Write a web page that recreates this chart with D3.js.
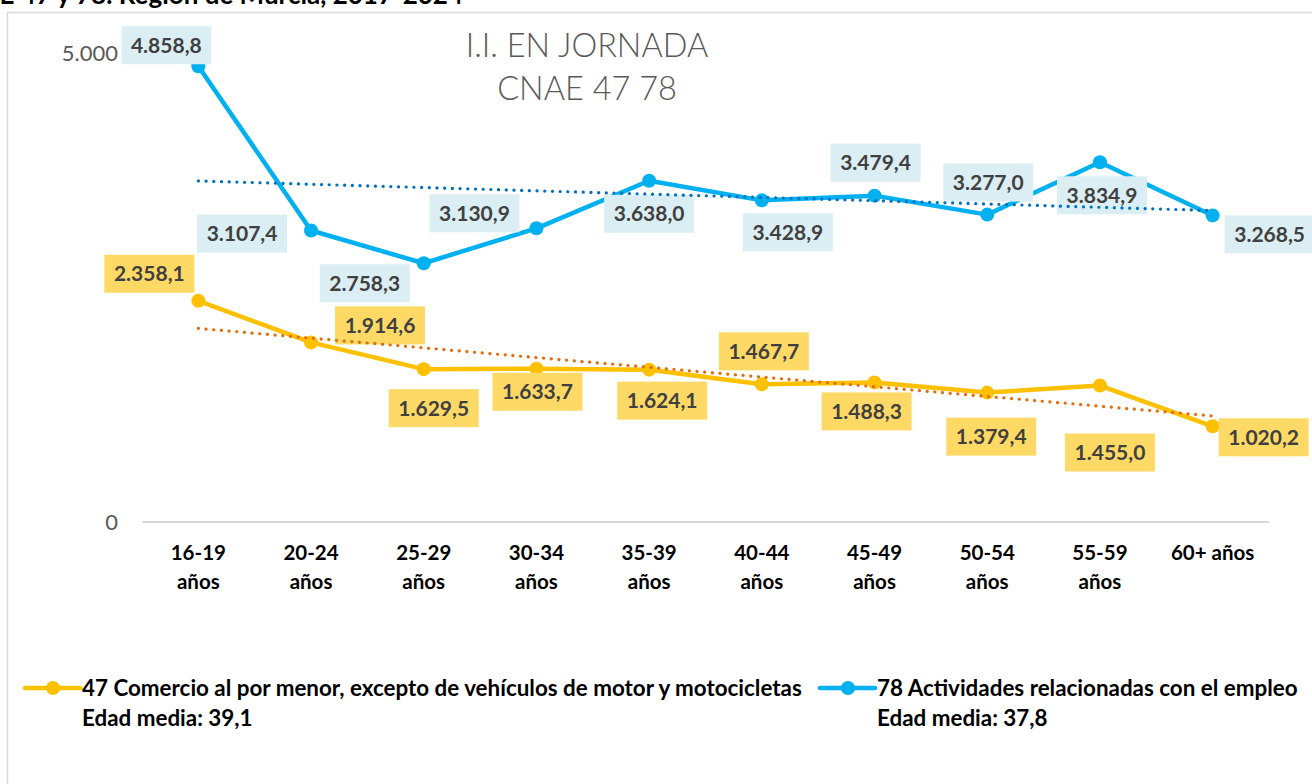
<!DOCTYPE html>
<html>
<head>
<meta charset="utf-8">
<script src="https://cdn.jsdelivr.net/npm/d3@7"></script>
<style>
  html, body { margin: 0; padding: 0; background: #fff; }
  svg { display: block; }
</style>
</head>
<body>
<svg id="chart" width="1312" height="784"></svg>
<script>
// ---------- data ----------
const categories = ["16-19 años", "20-24 años", "25-29 años", "30-34 años", "35-39 años",
                    "40-44 años", "45-49 años", "50-54 años", "55-59 años", "60+ años"];
const categoryLines = [["16-19", "años"], ["20-24", "años"], ["25-29", "años"], ["30-34", "años"],
                       ["35-39", "años"], ["40-44", "años"], ["45-49", "años"], ["50-54", "años"],
                       ["55-59", "años"], ["60+ años"]];
const comercio47 = [2358.1, 1914.6, 1629.5, 1633.7, 1624.1, 1467.7, 1488.3, 1379.4, 1455.0, 1020.2];
const empleo78   = [4858.8, 3107.4, 2758.3, 3130.9, 3638.0, 3428.9, 3479.4, 3277.0, 3834.9, 3268.5];
const yTicks = [0, 5000];
const seriesNames = ["47 Comercio al por menor, excepto de vehículos de motor y motocicletas",
                     "78 Actividades relacionadas con el empleo"];
const seriesMeanAge = ["Edad media: 39,1", "Edad media: 37,8"];
const titleLines = ["I.I. EN JORNADA", "CNAE 47 78"];
const topText = "CNAE 47 y 78. Región de Murcia, 2017-2024";

// ---------- layout (label offsets from points, px) ----------
const offs47 = [[-49, -27], [69, -17], [10, 39], [1, 23], [13, 31], [2, -33], [-8, 29], [4, 44], [10, 67], [51, 11]];
const offs78 = [[-32, -21], [-69, 3], [-59, 20], [-62, -15], [0, 33], [26, 32], [1, -33], [1, -32], [2, 33], [57, 19]];

const svg = d3.select("#chart");
const W = 1312, H = 784;
const FONT = "Lato, 'Open Sans', 'DejaVu Sans', sans-serif";

const esLocale = d3.formatLocale({decimal: ",", thousands: ".", grouping: [3], currency: ["", " €"]});
const fmt1 = esLocale.format(",.1f");
const fmt0 = esLocale.format(",.0f");

const x = d3.scaleBand().domain(categories).range([142, 1269]).paddingInner(0).paddingOuter(0);
const cx = c => x(c) + x.bandwidth() / 2;
const y = d3.scaleLinear().domain([0, 5000]).range([522, 53]);

// top caption (partly outside the window, as in the source image)
svg.append("text").attr("x", 463).attr("y", 4).attr("text-anchor", "end")
  .attr("font-family", FONT).attr("font-weight", "bold").attr("font-size", 26).attr("fill", "#000")
  .text(topText);

// chart frame
svg.append("rect").attr("x", 7.5).attr("y", 12.5).attr("width", W + 20).attr("height", H + 20)
  .attr("fill", "#fff").attr("stroke", "#d9d9d9").attr("stroke-width", 1.5);

// title
svg.append("g").selectAll("text").data(titleLines).join("text")
  .attr("x", 587).attr("y", (d, i) => 57 + i * 43)
  .attr("text-anchor", "middle").attr("font-family", FONT).attr("font-weight", 300)
  .attr("font-size", 32.5).attr("fill", "#595959").text(d => d);

// y axis labels
const yAxis = d3.axisLeft(y).tickValues(yTicks).tickFormat(fmt0).tickSize(0).tickPadding(0);
const gy = svg.append("g").attr("transform", "translate(118,0)").call(yAxis);
gy.select(".domain").remove();
gy.selectAll("text").attr("font-family", FONT).attr("font-size", 22).attr("fill", "#595959");

// baseline
svg.append("line").attr("x1", 142).attr("x2", 1269).attr("y1", y(0)).attr("y2", y(0))
  .attr("stroke", "#d9d9d9").attr("stroke-width", 2);

// category labels
const gx = svg.append("g");
categories.forEach((c, i) => {
  const t = gx.append("text").attr("x", cx(c)).attr("y", 560).attr("text-anchor", "middle")
    .attr("font-family", FONT).attr("font-weight", "bold").attr("font-size", 20.5).attr("fill", "#000");
  categoryLines[i].forEach((ln, j) => {
    t.append("tspan").attr("x", cx(c)).attr("dy", j === 0 ? 0 : 29).text(ln);
  });
});

const series = [
  {values: comercio47, color: "#ffc000", trend: "#e46c0a", box: "#ffd966", offs: offs47},
  {values: empleo78, color: "#00b0f0", trend: "#0070c0", box: "#daeef3", offs: offs78}
];

const line = d3.line().x((d, i) => cx(categories[i])).y(d => y(d));

series.forEach(s => {
  svg.append("path").datum(s.values).attr("d", line).attr("fill", "none")
    .attr("stroke", s.color).attr("stroke-width", 4.5).attr("stroke-linejoin", "round");
  svg.append("g").selectAll("circle").data(s.values).join("circle")
    .attr("cx", (d, i) => cx(categories[i])).attr("cy", d => y(d)).attr("r", 7)
    .attr("fill", s.color);
});

// data labels
series.forEach(s => {
  const g = svg.append("g");
  s.values.forEach((v, i) => {
    const px = cx(categories[i]) + s.offs[i][0];
    const py = y(v) + s.offs[i][1];
    g.append("rect").attr("x", px - 45).attr("y", py - 19).attr("width", 90).attr("height", 38)
      .attr("fill", s.box);
    g.append("text").attr("x", px).attr("y", py).attr("dy", "0.36em").attr("text-anchor", "middle")
      .attr("font-family", FONT).attr("font-weight", "bold").attr("font-size", 21).attr("fill", "#404040")
      .text(fmt1(v));
  });
});

// linear trend lines (least squares on the series)
series.forEach(s => {
  const n = s.values.length;
  const xs = d3.range(n);
  const mx = d3.mean(xs), my = d3.mean(s.values);
  const slope = d3.sum(xs, (xi, k) => (xi - mx) * (s.values[k] - my)) / d3.sum(xs, xi => (xi - mx) ** 2);
  const b = my - slope * mx;
  svg.append("line")
    .attr("x1", cx(categories[0])).attr("y1", y(b))
    .attr("x2", cx(categories[n - 1])).attr("y2", y(b + slope * (n - 1)))
    .attr("stroke", s.trend).attr("stroke-width", 3.2).attr("stroke-linecap", "round")
    .attr("stroke-dasharray", "0.1 7.6");
});

// legend
const legendItems = [
  {x: 25, color: "#ffc000", name: seriesNames[0], age: seriesMeanAge[0]},
  {x: 820, color: "#00b0f0", name: seriesNames[1], age: seriesMeanAge[1]}
];
legendItems.forEach(L => {
  const g = svg.append("g");
  g.append("line").attr("x1", L.x).attr("x2", L.x + 55).attr("y1", 688).attr("y2", 688)
    .attr("stroke", L.color).attr("stroke-width", 4.5).attr("stroke-linecap", "round");
  g.append("circle").attr("cx", L.x + 28).attr("cy", 688).attr("r", 7).attr("fill", L.color);
  g.append("text").attr("x", L.x + 57).attr("y", 688).attr("dy", "0.36em")
    .attr("font-family", FONT).attr("font-weight", "bold").attr("font-size", 22.4).attr("fill", "#000")
    .text(L.name);
  g.append("text").attr("x", L.x + 57).attr("y", 718).attr("dy", "0.36em")
    .attr("font-family", FONT).attr("font-weight", "bold").attr("font-size", 22.4).attr("fill", "#000")
    .text(L.age);
});
</script>
</body>
</html>
